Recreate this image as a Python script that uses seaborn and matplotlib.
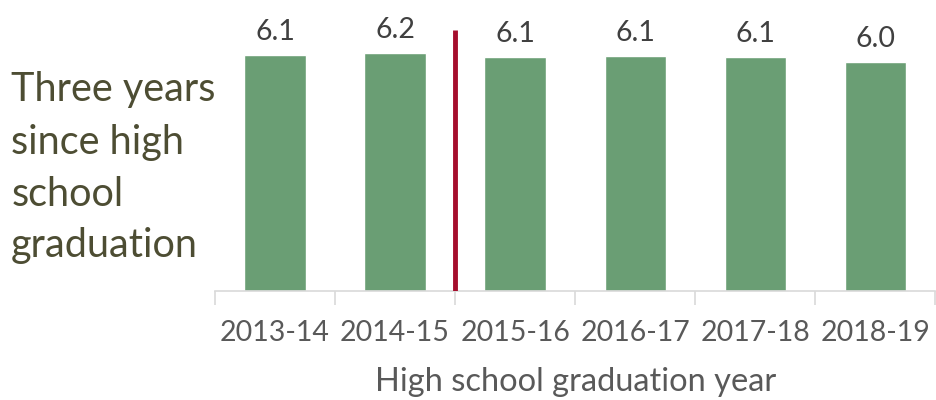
import matplotlib
matplotlib.use("Agg")
import matplotlib.pyplot as plt
import seaborn as sns
import pandas as pd

# ---- data ----
years = ["2013-14", "2014-15", "2015-16", "2016-17", "2017-18", "2018-19"]
values = [6.13, 6.18, 6.08, 6.10, 6.08, 5.96]
labels = ["6.1", "6.2", "6.1", "6.1", "6.1", "6.0"]
break_pos = 1.5        # policy-change line between 2014-15 and 2015-16
break_top = 6.78

sns.set_theme(style="white")
plt.rcParams["font.family"] = ["Lato", "DejaVu Sans"]

df = pd.DataFrame({"year": years, "value": values})

fig = plt.figure(figsize=(9.36, 4.0), dpi=100)
ax = fig.add_axes([0.2297, 0.2725, 0.7695, 0.7275])

sns.barplot(data=df, x="year", y="value", color="#6a9e74", saturation=1,
            width=0.51, ax=ax)

ax.bar_label(ax.containers[0], labels=labels, padding=7,
             fontsize=20.5, color="#404040")

ax.vlines(break_pos, 0, break_top, color="#a50e2d", linewidth=3.5, zorder=3)

ax.set_ylim(0, 7.56)
ax.set_xlim(-0.5, len(years) - 0.5)
ax.set_yticks([])
ax.set_ylabel("")
ax.set_xlabel("High school graduation year", fontsize=23.5, color="#595959",
              labelpad=15)

# category boundary ticks
ax.set_xticks([i + 0.5 for i in range(-1, len(years))], minor=True)
ax.tick_params(axis="x", which="minor", length=10, width=1.2, color="#d9d9d9",
               bottom=True)
ax.tick_params(axis="x", which="major", length=0, labelsize=20.5,
               labelcolor="#595959", pad=21)

for s in ["top", "right", "left"]:
    ax.spines[s].set_visible(False)
ax.spines["bottom"].set_color("#d9d9d9")
ax.spines["bottom"].set_linewidth(1.2)

fig.text(0.012, 0.58, "Three years\nsince high\nschool\ngraduation",
         fontsize=28.5, color="#4d4d33", ha="left", va="center",
         linespacing=1.5)

fig.savefig("out.png", dpi=100, facecolor="white")
